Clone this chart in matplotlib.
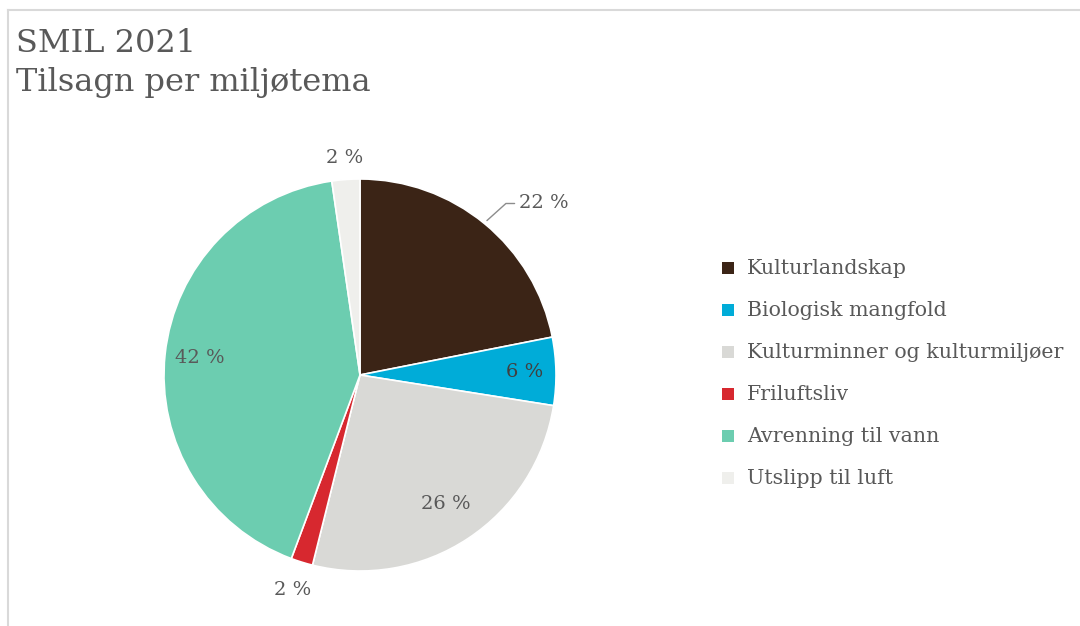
import matplotlib.pyplot as plt
import numpy as np
from matplotlib.lines import Line2D

categories = ['Kulturlandskap', 'Biologisk mangfold', 'Kulturminner og kulturmiljøer',
              'Friluftsliv', 'Avrenning til vann', 'Utslipp til luft']
shares = [21.9, 5.6, 26.4, 1.8, 42.0, 2.3]
colors = ['#3b2416', '#00acd8', '#d9d9d6', '#d7282f', '#6ccdb0', '#efefec']

# radial distance of each percentage label (in pie radii)
label_r = [1.27, 0.84, 0.79, 1.15, 0.82, 1.11]

plt.rcParams['font.family'] = ['DejaVu Serif']
txt_col = '#595959'

W, H = 1080, 626
fig = plt.figure(figsize=(W / 100, H / 100), dpi=100)
fig.patch.set_facecolor('white')

# light frame (top and left edges)
fig.add_artist(Line2D([8 / W, 1], [1 - 10 / H, 1 - 10 / H], color='#d9d9d9', lw=1.5))
fig.add_artist(Line2D([8 / W, 8 / W], [0, 1 - 10 / H], color='#d9d9d9', lw=1.5))

fig.text(16 / W, 1 - 52 / H, 'SMIL 2021', fontsize=23, color=txt_col)
fig.text(16 / W, 1 - 91 / H, 'Tilsagn per miljøtema', fontsize=23, color=txt_col)

cx, cy, r = 360, 375, 196
ax = fig.add_axes([(cx - r) / W, (H - cy - r) / H, 2 * r / W, 2 * r / H])
wedges, _ = ax.pie(shares, colors=colors, startangle=90, counterclock=False,
                   radius=1, wedgeprops=dict(linewidth=1.2, edgecolor='white'))
ax.set_xlim(-1, 1)
ax.set_ylim(-1, 1)
ax.set_aspect('equal')
ax.axis('off')

for i, w in enumerate(wedges):
    mid = np.deg2rad((w.theta1 + w.theta2) / 2)
    lbl = '%.0f %%' % shares[i]
    x, y = label_r[i] * np.cos(mid), label_r[i] * np.sin(mid)
    if i == 0:
        ax.annotate(lbl, xy=(1.02 * np.cos(mid), 1.02 * np.sin(mid)), xytext=(0.81, 0.875),
                    fontsize=14, color=txt_col, ha='left', va='center',
                    arrowprops=dict(arrowstyle='-', color='#8c8c8c', lw=1,
                                    connectionstyle='angle,angleA=0,angleB=42,rad=0',
                                    shrinkA=1, shrinkB=0),
                    annotation_clip=False)
    else:
        ax.text(x, y, lbl, fontsize=14, color=txt_col if i != 1 else '#404040',
                ha='center', va='center', clip_on=False)

# legend
ly0, dy = 268, 42
for i, c in enumerate(categories):
    y = 1 - (ly0 + i * dy) / H
    fig.patches.append(plt.Rectangle((722 / W, y - 6 / H), 12 / W, 12 / H,
                                     facecolor=colors[i], edgecolor='none',
                                     transform=fig.transFigure))
    fig.text(747 / W, y, c, fontsize=14.8, color=txt_col, va='center')

fig.savefig('out.png', dpi=100, facecolor='white')
